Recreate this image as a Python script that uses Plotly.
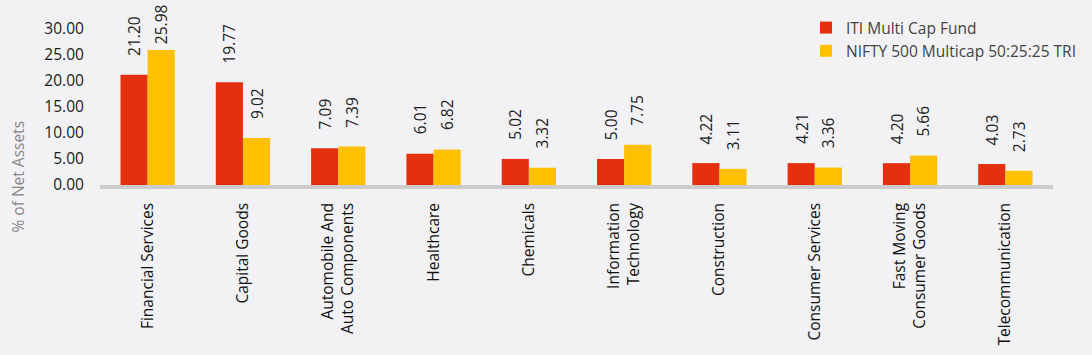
import plotly.graph_objects as go

categories = ["Financial Services", "Capital Goods", "Automobile And<br>Auto Components", "Healthcare",
              "Chemicals", "Information<br>Technology", "Construction", "Consumer Services",
              "Fast Moving<br>Consumer Goods", "Telecommunication"]
fund = [21.20, 19.77, 7.09, 6.01, 5.02, 5.00, 4.22, 4.21, 4.20, 4.03]
bench = [25.98, 9.02, 7.39, 6.82, 3.32, 7.75, 3.11, 3.36, 5.66, 2.73]
names = ["ITI Multi Cap Fund", "NIFTY 500 Multicap 50:25:25 TRI"]
colors = ["#e5300f", "#ffc000"]
font = "Open Sans"

W, H = 1092, 355
ML, MR, MT, MB = 100, 39, 3, 170
YMAX = 35
px_per_unit = (H - MT - MB) / YMAX
label_gap, label_len, top_pad = 17, 39, 4

fig = go.Figure()
for i, (vals, name, col) in enumerate(zip([fund, bench], names, colors)):
    fig.add_trace(go.Bar(
        x=categories, y=vals, name=name, marker=dict(color=col, line=dict(width=0)),
        cliponaxis=False))
    xs = -13.5 if i == 0 else 13.5
    for c, v in zip(categories, vals):
        room = (YMAX - v) * px_per_unit - label_len - top_pad
        fig.add_annotation(x=c, y=v, text=f"{v:.2f}", textangle=-90, showarrow=False,
                           xshift=xs, yshift=min(label_gap, room), yanchor="bottom",
                           xanchor="center",
                           font=dict(family=font, size=15.5, color="#222222"))

fig.update_layout(
    width=W, height=H, barmode="group", bargap=0.43, bargroupgap=0,
    paper_bgcolor="#f2f2f4", plot_bgcolor="#f2f2f4",
    margin=dict(l=ML, r=MR, t=MT, b=MB, autoexpand=False),
    font=dict(family=font, color="#222222"),
    legend=dict(x=(806 - ML) / (W - ML - MR), y=1 - 8 / (H - MT - MB),
                xanchor="left", yanchor="top", bgcolor="rgba(0,0,0,0)",
                font=dict(size=15.5, color="#444444"), itemwidth=30, tracegroupgap=0),
    showlegend=True,
)
fig.update_yaxes(range=[0, YMAX], tickvals=[0, 5, 10, 15, 20, 25, 30], tickformat=".2f",
                 showgrid=False, zeroline=False, showline=False, automargin=False,
                 tickfont=dict(size=15.5, color="#1a1a1a"), ticks="outside", ticklen=12,
                 tickcolor="rgba(0,0,0,0)")
fig.update_xaxes(showline=True, linecolor="#cccccc", linewidth=3.5, tickangle=-90, automargin=False,
                 tickfont=dict(size=15.5, color="#111111"), ticks="outside", ticklen=8,
                 tickcolor="rgba(0,0,0,0)")
fig.add_annotation(text="% of Net Assets", xref="paper", yref="paper", x=(17 - ML) / (W - ML - MR),
                   y=(185 - 176.5) / (H - MT - MB),
                   textangle=-90, showarrow=False, font=dict(size=15.5, color="#888888"),
                   xanchor="center", yanchor="middle")
fig.write_html("out.html", config={"displayModeBar": False},
               post_script="document.body.style.margin='0';document.body.style.background='#f2f2f4';")
